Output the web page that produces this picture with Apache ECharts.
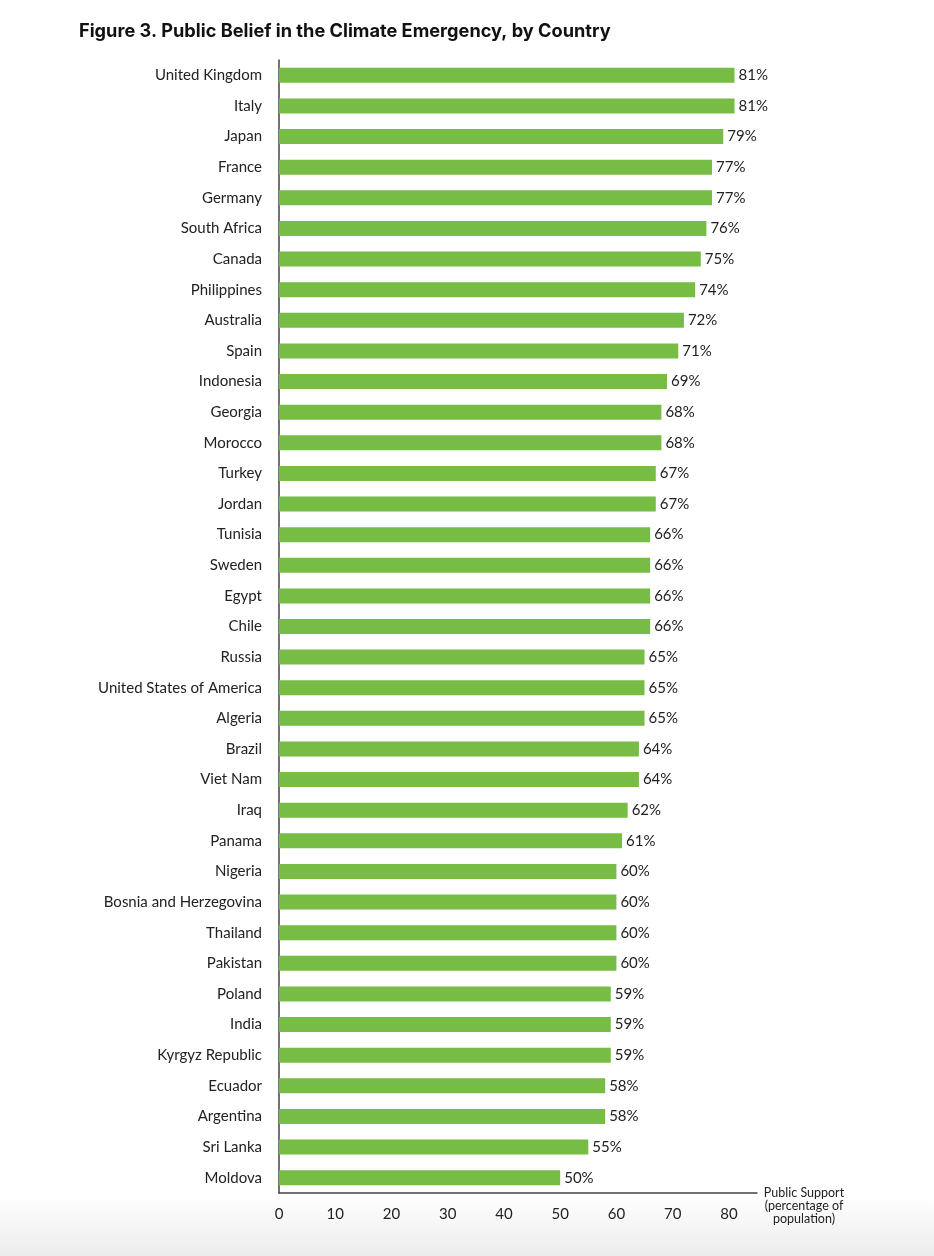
<!DOCTYPE html>
<html>
<head>
<meta charset="utf-8">
<script src="https://cdn.jsdelivr.net/npm/echarts@6/dist/echarts.min.js"></script>
<style>
html,body{margin:0;padding:0;background:#fff;}
#chart{width:934px;height:1256px;}
</style>
</head>
<body>
<div id="chart"></div>
<script>
const categories = ["United Kingdom","Italy","Japan","France","Germany","South Africa","Canada","Philippines","Australia","Spain","Indonesia","Georgia","Morocco","Turkey","Jordan","Tunisia","Sweden","Egypt","Chile","Russia","United States of America","Algeria","Brazil","Viet Nam","Iraq","Panama","Nigeria","Bosnia and Herzegovina","Thailand","Pakistan","Poland","India","Kyrgyz Republic","Ecuador","Argentina","Sri Lanka","Moldova"];
const values = [81,81,79,77,77,76,75,74,72,71,69,68,68,67,67,66,66,66,66,65,65,65,64,64,62,61,60,60,60,60,59,59,59,58,58,55,50];
const xTicks = [0,10,20,30,40,50,60,70,80];

const chart = echarts.init(document.getElementById('chart'));
chart.setOption({
  backgroundColor: '#ffffff',
  animation: false,
  title: {
    text: 'Figure 3. Public Belief in the Climate Emergency, by Country',
    left: 74, top: 18,
    textStyle: {fontFamily: 'Inter', fontWeight: 'bold', fontSize: 18.2, color: '#111'}
  },
  graphic: [{
    type: 'rect', left: 0, top: 1196, z: -10,
    shape: {width: 934, height: 60},
    style: {fill: new echarts.graphic.LinearGradient(0,0,0,1,[{offset:0,color:'#ffffff'},{offset:1,color:'#ececec'}])}
  }],
  grid: {left: 279, right: 177, top: 60, bottom: 63, containLabel: false},
  xAxis: {
    type: 'value', min: 0, max: 85, interval: 10,
    name: 'Public Support\n(percentage of\npopulation)',
    nameLocation: 'end', nameGap: 47,
    nameTextStyle: {fontFamily: 'Lato', fontSize: 12.5, color: '#222', align: 'center', verticalAlign: 'top', lineHeight: 13, padding: [-7,0,0,0]},
    axisLine: {show: true, lineStyle: {color: '#444', width: 1.5}},
    axisTick: {show: false},
    splitLine: {show: false},
    axisLabel: {
      fontFamily: 'Lato', fontSize: 15, color: '#222', margin: 14,
      showMaxLabel: false,
      formatter: v => xTicks.includes(v) ? String(v) : ''
    }
  },
  yAxis: {
    type: 'category', data: categories, inverse: true,
    axisLine: {show: true, lineStyle: {color: '#444', width: 1.5}},
    axisTick: {show: false},
    axisLabel: {fontFamily: 'Lato', fontSize: 15, color: '#222', margin: 17}
  },
  series: [{
    type: 'bar', data: values, barWidth: 15,
    itemStyle: {color: '#76bc45'},
    label: {show: true, position: 'right', distance: 4, formatter: '{c}%', fontFamily: 'Lato', fontSize: 15, color: '#222'}
  }]
});
</script>
</body>
</html>
